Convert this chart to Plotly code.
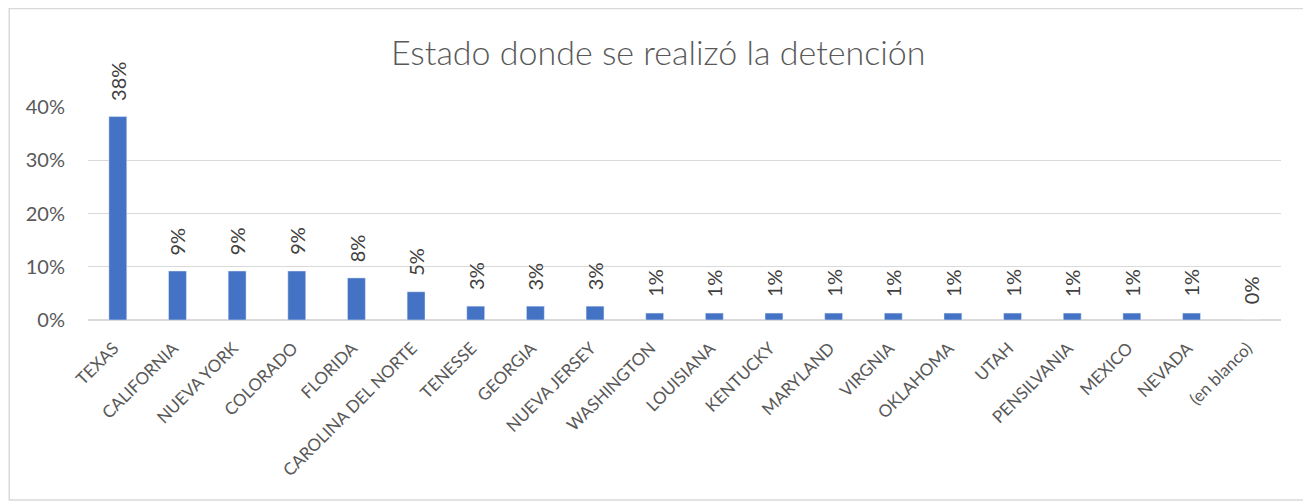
import plotly.graph_objects as go

estados = ["TEXAS", "CALIFORNIA", "NUEVA YORK", "COLORADO", "FLORIDA",
           "CAROLINA DEL NORTE", "TENESSE", "GEORGIA", "NUEVA JERSEY",
           "WASHINGTON", "LOUISIANA", "KENTUCKY", "MARYLAND", "VIRGNIA",
           "OKLAHOMA", "UTAH", "PENSILVANIA", "MEXICO", "NEVADA", "(en blanco)"]
porcentajes = [0.382, 0.092, 0.092, 0.092, 0.079, 0.053, 0.026, 0.026, 0.026,
               0.013, 0.013, 0.013, 0.013, 0.013, 0.013, 0.013, 0.013, 0.013,
               0.013, 0.0]
etiquetas = ["38%", "9%", "9%", "9%", "8%", "5%", "3%", "3%", "3%",
             "1%", "1%", "1%", "1%", "1%", "1%", "1%", "1%", "1%", "1%", "0%"]
y_ticks = [0, 0.1, 0.2, 0.3, 0.4]

fig = go.Figure()
fig.add_trace(go.Bar(
    x=estados, y=porcentajes,
    marker=dict(color="#4472C4"),
))

# etiquetas de datos verticales encima de cada barra
for est, val, lab in zip(estados, porcentajes, etiquetas):
    fig.add_annotation(x=est, y=val, text=lab, textangle=-90,
                       showarrow=False, xanchor="center", yanchor="bottom",
                       yshift=14, font=dict(size=20, color="#404040"))

# la pagina deja ~8px de margen, por eso la figura es algo menor que la ventana
fig.update_layout(
    width=1303, height=496,
    margin=dict(l=80, r=30, t=99, b=184, autoexpand=False),
    plot_bgcolor="white", paper_bgcolor="white",
    font=dict(family="Lato", color="#595959"),
    bargap=0.7,
    showlegend=False,
    title=dict(text="Estado donde se realizó la detención", x=0.499, xanchor="center",
               y=0.91, yanchor="middle",
               font=dict(size=34, color="#595959", weight=300)),
    shapes=[dict(type="rect", xref="paper", yref="paper",
                 x0=-0.066, x1=1.0226, y0=-0.845, y1=1.462,
                 line=dict(color="#D9D9D9", width=1.5))],
)
fig.update_yaxes(range=[0, 0.4], tickvals=y_ticks, tickformat=".0%",
                 showgrid=True, gridcolor="#D9D9D9", gridwidth=1,
                 zeroline=True, zerolinecolor="#D9D9D9", automargin=False,
                 ticklabelstandoff=22,
                 tickfont=dict(size=20, color="#595959"), ticks="")
fig.update_xaxes(tickangle=-45, tickfont=dict(size=17, color="#595959"),
                 showline=False, ticks="", automargin=False,
                 ticklabelshift=-4, ticklabelstandoff=14)

fig.write_html("out.html")
